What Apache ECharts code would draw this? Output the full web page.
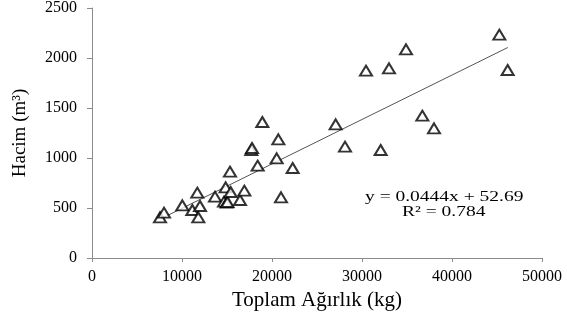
<!DOCTYPE html>
<html><head><meta charset="utf-8">
<script src="https://cdn.jsdelivr.net/npm/echarts@6/dist/echarts.min.js"></script>
<style>html,body{margin:0;padding:0;background:#fff}#c{width:567px;height:322px}</style>
</head><body><div id="c"></div>
<script>
var weights = [7556, 8000, 10037, 11148, 11700, 12000, 11815, 13667, 14852, 14667, 14963, 15050, 15407, 15333, 16444, 16926, 17700, 17780, 18407, 18926, 20519, 20704, 21000, 22296, 27074, 28111, 30444, 33000, 34889, 32074, 36704, 38000, 45259, 46185];
var volumes = [407, 453, 527, 480, 653, 520, 407, 613, 707, 563, 553, 560, 660, 863, 580, 673, 1080, 1100, 923, 1360, 997, 1187, 607, 900, 1337, 1113, 1873, 1897, 2087, 1080, 1423, 1297, 2233, 1880];
var trendX = [7600, 46200];
var trendY = [390, 2105];
var xTicks = [0, 10000, 20000, 30000, 40000, 50000];
var yTicks = [0, 500, 1000, 1500, 2000, 2500];
var eqText = 'y = 0.0444x + 52.69';
var r2Text = 'R² = 0.784';

var pts = weights.map(function(w, i){ return [w, volumes[i]]; });
var trend = trendX.map(function(x, i){ return [x, trendY[i]]; });
var serif = '"Liberation Serif", "Times New Roman", serif';
var axisCol = '#8c8c8c';

var chart = echarts.init(document.getElementById('c'), null, {renderer: 'canvas'});
chart.setOption({
  animation: false,
  backgroundColor: '#fff',
  grid: {left: 92, right: 25, top: 8, bottom: 64, containLabel: false},
  xAxis: {
    type: 'value', min: xTicks[0], max: xTicks[xTicks.length-1], interval: 10000,
    name: 'Toplam Ağırlık (kg)', nameLocation: 'middle', nameGap: 27,
    nameTextStyle: {fontFamily: serif, fontSize: 21, color: '#000'},
    axisLine: {show: true, lineStyle: {color: axisCol, width: 1}},
    axisTick: {show: true, length: 4, lineStyle: {color: axisCol}},
    axisLabel: {fontFamily: serif, fontSize: 16, color: '#000', margin: 11,
      formatter: function(v){ return String(v); }},
    splitLine: {show: false}
  },
  yAxis: {
    type: 'value', min: yTicks[0], max: yTicks[yTicks.length-1], interval: 500,
    name: 'Hacim (m³)', nameLocation: 'middle', nameGap: 62, nameRotate: 90,
    nameTextStyle: {fontFamily: serif, fontSize: 19, color: '#000'},
    axisLine: {show: true, lineStyle: {color: axisCol, width: 1}},
    axisTick: {show: true, length: 5, lineStyle: {color: axisCol}},
    axisLabel: {fontFamily: serif, fontSize: 16, color: '#000', margin: 15,
      formatter: function(v){ return String(v); }},
    splitLine: {show: false}
  },
  series: [
    {
      type: 'line', data: trend, symbol: 'none', silent: true,
      lineStyle: {color: '#555', width: 1}, z: 1
    },
    {
      type: 'scatter', data: pts, symbol: 'triangle', symbolSize: [12, 10],
      itemStyle: {color: '#fff', borderColor: '#000', borderWidth: 2}, z: 3
    }
  ],
  graphic: [
    {type: 'text', x: 365, y: 190, scaleX: 1.3, style: {text: eqText, font: '15px ' + serif, fill: '#000'}},
    {type: 'text', x: 402, y: 205, scaleX: 1.3, style: {text: r2Text, font: '15px ' + serif, fill: '#000'}}
  ]
});
</script></body></html>
